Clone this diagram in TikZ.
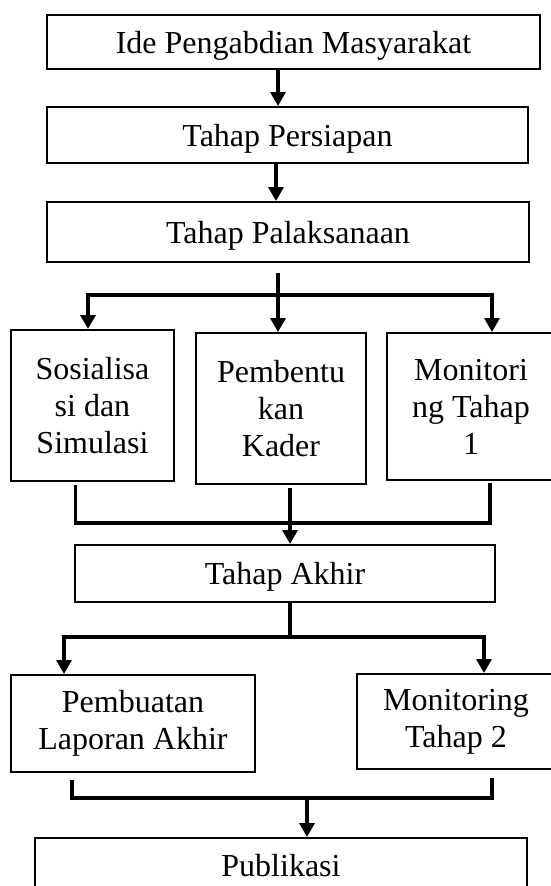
\documentclass[tikz,border=0pt]{standalone}
\usepackage{fontspec}
\setmainfont{Liberation Serif}
\usetikzlibrary{arrows.meta}
\begin{document}
\begin{tikzpicture}[x=1pt,y=-1pt,
  box/.style={draw,line width=2pt,inner sep=0pt,align=center,font=\fontsize{32}{37}\selectfont},
  one/.style={text depth=0pt},
  ln/.style={line width=3.4pt},
  arr/.style={ln,-{Triangle[length=14pt,width=15pt]}}]
\useasboundingbox (0,0) rectangle (551,886);
\clip (0,0) rectangle (551,886);
% boxes
\node[box,one,minimum width=493pt,minimum height=54pt] (b1) at (293.5,42) {Ide Pengabdian Masyarakat};
\node[box,one,minimum width=481pt,minimum height=56pt] (b2) at (287.5,135) {Tahap Persiapan};
\node[box,one,minimum width=482pt,minimum height=60pt] (b3) at (288,232) {Tahap Palaksanaan};
\node[box,minimum width=163pt,minimum height=151pt] (b4) at (92.5,405.5) {Sosialisa\\si dan\\Simulasi};
\node[box,minimum width=170pt,minimum height=151pt] (b5) at (281,408.5) {Pembentu\\kan\\Kader};
\node[box,minimum width=168pt,minimum height=147pt] (b6) at (471,406.5) {Monitori\\ng Tahap\\1};
\node[box,one,minimum width=419.5pt,minimum height=57pt] (b7) at (285,573.5) {Tahap Akhir};
\node[box,minimum width=244pt,minimum height=97pt] (b8) at (133,723.5) {Pembuatan\\Laporan Akhir};
\node[box,minimum width=198pt,minimum height=95pt] (b9) at (456,721.5) {Monitoring\\Tahap 2};
\node[box,one,minimum width=492pt,minimum height=54pt] (b10) at (281,865) {Publikasi};
% connectors top
\coordinate (a1) at (278,0);
\coordinate (a2) at (276,0);
\draw[arr] (b1.south -| a1) -- (b2.north -| a1);
\draw[arr] (b2.south -| a2) -- (b3.north -| a2);
% split into three
\coordinate (s3) at (278,273);
\coordinate (j3) at (278,295);
\coordinate (l3) at (88,295);
\coordinate (r3) at (492,295);
\draw[arr] (s3) -- (b5.north -| s3);
\draw[arr] (j3) -- (l3) -- (b4.north -| l3);
\draw[arr] (j3) -- (r3) -- (b6.north -| r3);
% merge three
\coordinate (m4) at (75.5,485);
\coordinate (m6) at (490,483);
\coordinate (jm) at (280,523);
\draw[ln] (m4) |- (jm) -| (m6);
\coordinate (p5) at (290,488);
\draw[arr] (p5) -- (b7.north -| p5);
% split into two
\coordinate (j7) at (290,637);
\coordinate (l7) at (64,637);
\coordinate (r7) at (484,637);
\draw[ln] (b7.south -| j7) -- ([yshift=-2pt]j7);
\draw[arr] (j7) -- (l7) -- (b8.north -| l7);
\draw[arr] (j7) -- (r7) -- (b9.north -| r7);
% merge two
\coordinate (m8) at (72,780);
\coordinate (m9) at (492,778);
\coordinate (j9) at (307,798);
\draw[ln] (m8) |- (j9) -| (m9);
\draw[arr] (j9) -- (b10.north -| j9);
\end{tikzpicture}
\end{document}
